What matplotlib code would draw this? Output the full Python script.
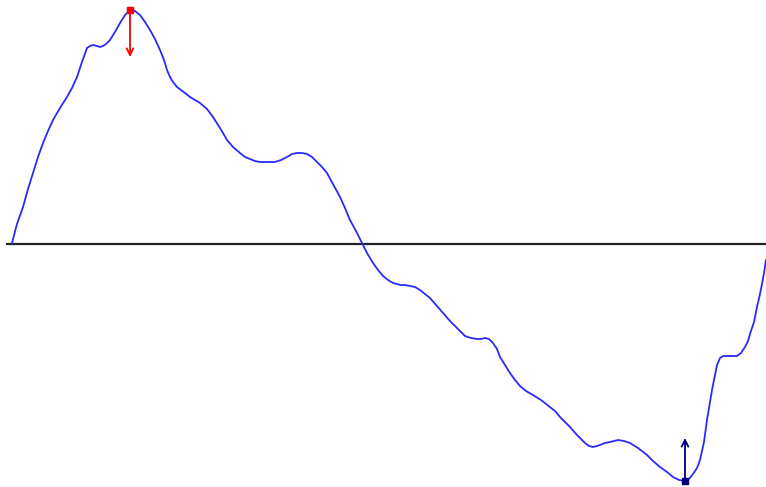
import matplotlib
matplotlib.use("Agg")
import matplotlib.pyplot as plt
import numpy as np

# Curve values (x position, height above baseline)
x_vals = [12, 17, 23, 28, 33, 38, 43, 48, 53, 60, 67, 72, 77, 82, 87, 90, 93, 97, 100, 103,
          106, 110, 115, 120, 125, 130, 135, 140, 145, 150, 155, 160, 164, 167, 170, 173,
          177, 181, 185, 190, 195, 200, 207, 213, 220, 227, 233, 240, 245, 250, 255, 260,
          268, 275, 281, 287, 292, 297, 302, 307, 312, 317, 322, 327, 333, 340, 345, 350,
          356, 362, 367, 373, 378, 383, 388, 393, 397, 400, 405, 410, 415, 420, 425, 430,
          437, 445, 450, 455, 460, 465, 471, 477, 481, 485, 489, 493, 497, 500, 505, 510,
          515, 520, 526, 533, 541, 550, 555, 560, 565, 570, 577, 585, 589, 593, 597, 600,
          605, 610, 614, 618, 624, 630, 638, 647, 653, 660, 667, 673, 679, 685, 689, 693,
          697, 700, 704, 707, 710, 712, 715, 717, 720, 723, 730, 737, 741, 745, 748, 750,
          754, 757, 760, 762, 764, 766]
y_px = [243, 224, 207, 189, 173, 157, 143, 131, 120, 108, 97, 88, 77, 62, 48, 46, 45, 46,
        47, 46, 44, 40, 32, 23, 15, 10, 11, 15, 22, 30, 39, 50, 60, 70, 77, 82, 87, 90,
        93, 97, 100, 103, 109, 117, 128, 140, 147, 153, 157, 159, 161, 162, 162, 162,
        160, 157, 154, 153, 153, 154, 157, 162, 167, 173, 184, 197, 208, 220, 231, 243,
        253, 263, 270, 276, 280, 283, 284, 285, 285, 286, 287, 290, 294, 298, 306, 315,
        321, 326, 331, 336, 338, 339, 339, 338, 339, 343, 349, 357, 365, 373, 380, 386,
        391, 395, 400, 407, 411, 417, 422, 427, 435, 443, 446, 447, 446, 445, 443, 442,
        441, 440, 441, 443, 448, 455, 461, 467, 472, 477, 480, 481, 479, 474, 468, 460,
        442, 420, 402, 390, 375, 365, 358, 356, 356, 356, 353, 347, 341, 334, 322, 307,
        294, 284, 273, 260]
baseline = 243.5
y_vals = [baseline - v for v in y_px]

max_x, max_y = 130, baseline - 10
min_x, min_y = 685, baseline - 481

fig = plt.figure(figsize=(7.66, 4.87), dpi=100)
ax = fig.add_axes([0, 0, 1, 1])
ax.set_xlim(0, 766)
ax.set_ylim(baseline - 487, baseline)
ax.axis("off")

ax.plot([7, 766], [0, 0], color="#222222", lw=1.6, zorder=1)
ax.plot(x_vals, y_vals, color="#2a2aff", lw=1.3, zorder=2)

ax.plot([max_x], [max_y], marker="s", color="red", ms=5, zorder=3)
ax.annotate("", xy=(max_x, max_y - 47), xytext=(max_x, max_y),
            arrowprops=dict(arrowstyle="->", color="red", lw=1.3, shrinkA=0, shrinkB=0,
                            mutation_scale=12))
ax.plot([min_x], [min_y], marker="s", color="#000080", ms=5, zorder=3)
ax.annotate("", xy=(min_x, min_y + 43), xytext=(min_x, min_y),
            arrowprops=dict(arrowstyle="->", color="#000080", lw=1.3, shrinkA=0, shrinkB=0,
                            mutation_scale=12))

fig.savefig("out.png", dpi=100)
